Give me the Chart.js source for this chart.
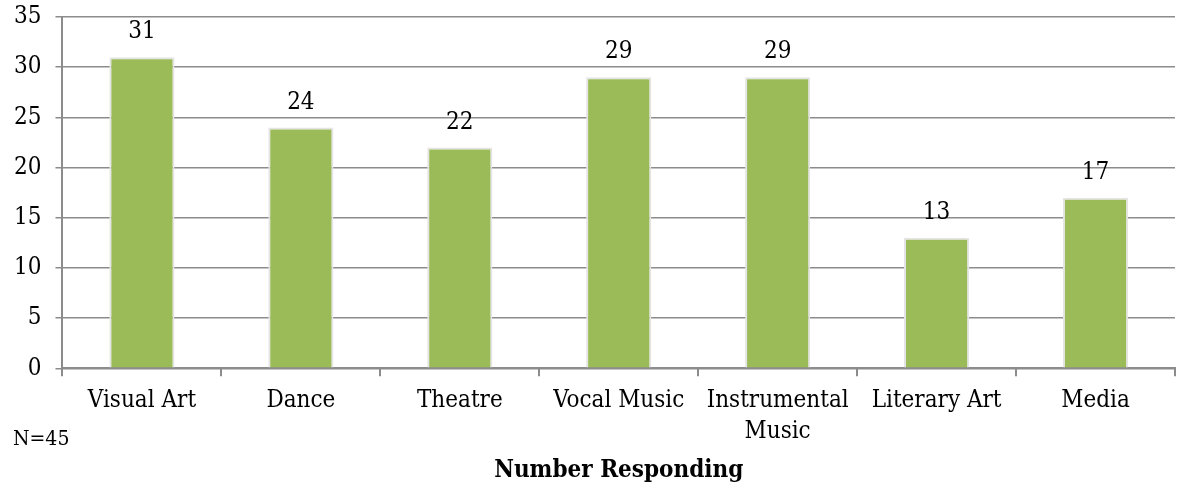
<!DOCTYPE html>
<html>
<head>
<meta charset="utf-8">
<script src="https://cdn.jsdelivr.net/npm/chart.js@4"></script>
<style>
  html, body { margin: 0; padding: 0; background: #fff; }
  #wrap { position: relative; width: 1177px; height: 488px; }
  #note { position: absolute; left: 13px; top: 426px; font: 21px "DejaVu Serif Condensed", "DejaVu Serif", serif; color: #000; }
</style>
</head>
<body>
<div id="wrap">
  <canvas id="chart" width="1177" height="488"></canvas>
  <div id="note">N=45</div>
</div>
<script>
// Données
const categories = ['Visual Art', 'Dance', 'Theatre', 'Vocal Music', ['Instrumental', 'Music'], 'Literary Art', 'Media'];
const responses = [31, 24, 22, 29, 29, 13, 17];
const yTicks = [0, 5, 10, 15, 20, 25, 30, 35];

const FONT = '"DejaVu Serif Condensed", "DejaVu Serif", serif';
const SIZE = 24;

// Valeurs au-dessus des barres
const valueLabels = {
    id: 'valueLabels',
    afterDatasetsDraw(chart) {
        const { ctx } = chart;
        const meta = chart.getDatasetMeta(0);
        ctx.save();
        ctx.font = SIZE + 'px ' + FONT;
        ctx.fillStyle = '#000';
        ctx.textAlign = 'center';
        ctx.textBaseline = 'bottom';
        meta.data.forEach((bar, i) => {
            ctx.fillText(responses[i], bar.x, bar.y - 13);
        });
        ctx.restore();
    }
};

new Chart(document.getElementById('chart').getContext('2d'), {
    type: 'bar',
    data: {
        labels: categories,
        datasets: [{
            data: responses,
            backgroundColor: '#9bbb59',
            borderColor: '#e4e4e4',
            borderWidth: 2,
            barPercentage: 0.41,
            categoryPercentage: 1
        }]
    },
    options: {
        responsive: false,
        animation: false,
        layout: { padding: { top: 0, right: 2, left: 0, bottom: 3 } },
        plugins: { legend: { display: false }, tooltip: { enabled: false } },
        scales: {
            y: {
                min: 0,
                max: 35,
                afterBuildTicks: axis => { axis.ticks = yTicks.map(v => ({ value: v })); },
                afterFit: axis => { axis.paddingTop = 17; },
                ticks: { color: '#000', font: { family: FONT, size: SIZE }, padding: 14 },
                grid: { color: '#8c8c8c', lineWidth: 1.5, tickLength: 7 },
                border: { color: '#8c8c8c', width: 2 }
            },
            x: {
                ticks: { color: '#000', font: { family: FONT, size: SIZE, lineHeight: 1.33 }, padding: 8, maxRotation: 0, autoSkip: false },
                grid: { drawOnChartArea: false, color: '#8c8c8c', lineWidth: 2, tickLength: 8 },
                border: { color: '#8c8c8c', width: 2 },
                title: { display: true, text: 'Number Responding', color: '#000', font: { family: FONT, size: SIZE, weight: 'bold' }, padding: { top: 0, bottom: 0 } }
            }
        }
    },
    plugins: [valueLabels]
});
</script>
</body>
</html>
